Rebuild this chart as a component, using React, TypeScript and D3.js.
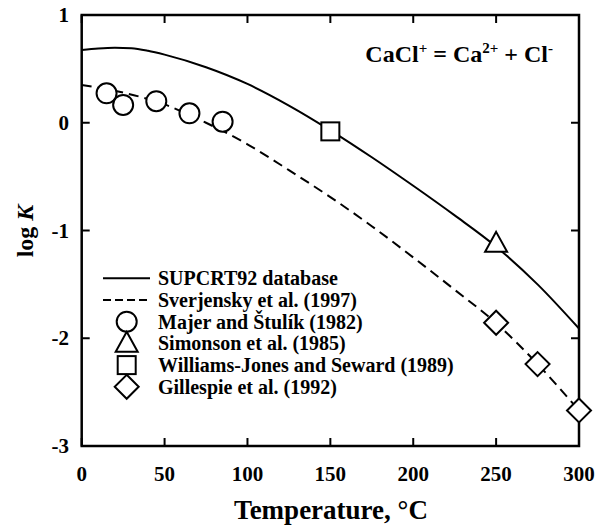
import React from "react";
import * as d3 from "d3";

const xTicks = [0, 50, 100, 150, 200, 250, 300];
const yTicks = [-3, -2, -1, 0, 1];

const supcrtT = [0, 10, 20, 30, 40, 50, 75, 100, 125, 150, 175, 200, 225, 250, 275, 300];
const supcrtLogK = [0.675, 0.69, 0.697, 0.692, 0.668, 0.632, 0.515, 0.36, 0.16, -0.07, -0.32, -0.585, -0.86, -1.15, -1.5, -1.91];

const sverT = [0, 25, 50, 75, 100, 125, 150, 175, 200, 225, 250, 275, 300];
const sverLogK = [0.35, 0.28, 0.17, 0.0, -0.2, -0.44, -0.69, -0.96, -1.25, -1.55, -1.86, -2.24, -2.67];

const majerT = [15, 25, 45, 65, 85];
const majerLogK = [0.273, 0.165, 0.2, 0.088, 0.01];

const simonsonT = [250];
const simonsonLogK = [-1.12];

const williamsT = [150];
const williamsLogK = [-0.08];

const gillespieT = [250, 275, 300];
const gillespieLogK = [-1.856, -2.24, -2.67];

const legendLabels = [
  "SUPCRT92 database",
  "Sverjensky et al. (1997)",
  "Majer and Štulík (1982)",
  "Simonson et al. (1985)",
  "Williams-Jones and Seward (1989)",
  "Gillespie et al. (1992)",
];

const W = 599;
const H = 531;
const left = 81.7;
const right = 579;
const top = 15;
const bottom = 446;
const FONT = '"Liberation Serif", "Times New Roman", Times, "DejaVu Serif", serif';

type Shape = "circle" | "triangle" | "square" | "diamond";

function Marker({ shape, cx, cy }: { shape: Shape; cx: number; cy: number }) {
  const common = { fill: "white", stroke: "black", strokeWidth: 2 };
  if (shape === "circle") return <circle cx={cx} cy={cy} r={10} {...common} />;
  if (shape === "square") return <rect x={cx - 9} y={cy - 9} width={18} height={18} {...common} />;
  if (shape === "triangle") {
    const s = 11;
    return (
      <path
        d={`M${cx},${cy - s * 1.05} L${cx + s},${cy + s * 0.75} L${cx - s},${cy + s * 0.75} Z`}
        {...common}
      />
    );
  }
  const s = 12;
  return <path d={`M${cx},${cy - s} L${cx + s},${cy} L${cx},${cy + s} L${cx - s},${cy} Z`} {...common} />;
}

export default function App() {
  const x = d3.scaleLinear().domain([0, 300]).range([left, right]);
  const y = d3.scaleLinear().domain([-3, 1]).range([bottom, top]);
  const line = d3
    .line<[number, number]>()
    .x((d) => x(d[0]))
    .y((d) => y(d[1]))
    .curve(d3.curveMonotoneX);

  const supData: [number, number][] = supcrtT.map((t, i) => [t, supcrtLogK[i]]);
  const sverData: [number, number][] = sverT.map((t, i) => [t, sverLogK[i]]);

  const tick = 8;
  const legendX = 103;
  const legendTextX = 158;
  const legendY0 = 278.3;
  const legendDy = 21.7;
  const markerX = 126.7;
  const shapes: Shape[] = ["circle", "triangle", "square", "diamond"];

  return (
    <svg
      width={W}
      height={H}
      style={{ position: "absolute", left: 0, top: 0, background: "white", fontFamily: FONT, fontWeight: 700 }}
    >
      <rect x={0} y={0} width={W} height={H} fill="white" />
      <defs>
        <clipPath id="plot">
          <rect x={left} y={top} width={right - left} height={bottom - top} />
        </clipPath>
      </defs>

      {/* curves */}
      <g clipPath="url(#plot)">
        <path d={line(supData) || ""} fill="none" stroke="black" strokeWidth={2} />
        <path d={line(sverData) || ""} fill="none" stroke="black" strokeWidth={2} strokeDasharray="10,6" />
      </g>

      {/* frame */}
      <rect x={left} y={top} width={right - left} height={bottom - top} fill="none" stroke="black" strokeWidth={2.5} />

      {/* x ticks */}
      {xTicks.map((t) => (
        <g key={"x" + t}>
          <line x1={x(t)} x2={x(t)} y1={bottom} y2={bottom - tick} stroke="black" strokeWidth={2} />
          <line x1={x(t)} x2={x(t)} y1={top} y2={top + tick} stroke="black" strokeWidth={2} />
          <text x={x(t)} y={481} fontSize={21} textAnchor="middle">
            {t}
          </text>
        </g>
      ))}
      {/* y ticks */}
      {yTicks.map((t) => (
        <g key={"y" + t}>
          <line x1={left} x2={left + tick} y1={y(t)} y2={y(t)} stroke="black" strokeWidth={2} />
          <line x1={right} x2={right - tick} y1={y(t)} y2={y(t)} stroke="black" strokeWidth={2} />
          <text x={69} y={y(t) + 7} fontSize={21} textAnchor="end">
            {t}
          </text>
        </g>
      ))}

      {/* markers */}
      {majerT.map((t, i) => (
        <Marker key={"m" + i} shape="circle" cx={x(t)} cy={y(majerLogK[i])} />
      ))}
      {simonsonT.map((t, i) => (
        <Marker key={"s" + i} shape="triangle" cx={x(t)} cy={y(simonsonLogK[i])} />
      ))}
      {williamsT.map((t, i) => (
        <Marker key={"w" + i} shape="square" cx={x(t)} cy={y(williamsLogK[i])} />
      ))}
      {gillespieT.map((t, i) => (
        <Marker key={"g" + i} shape="diamond" cx={x(t)} cy={y(gillespieLogK[i])} />
      ))}

      {/* axis titles */}
      <text x={331} y={519} fontSize={27} textAnchor="middle">
        Temperature, °C
      </text>
      <text transform={`translate(33,231) rotate(-90)`} fontSize={24} textAnchor="middle">
        log <tspan fontStyle="italic">K</tspan>
      </text>

      {/* reaction */}
      <text x={553} y={62} fontSize={24} textAnchor="end">
        CaCl<tspan fontSize={15} dy={-9}>+</tspan>
        <tspan dy={9}> = Ca</tspan>
        <tspan fontSize={15} dy={-9}>2+</tspan>
        <tspan dy={9}> + Cl</tspan>
        <tspan fontSize={15} dy={-9}>-</tspan>
      </text>

      {/* legend */}
      <line x1={legendX} x2={150} y1={legendY0} y2={legendY0} stroke="black" strokeWidth={2} />
      <line
        x1={legendX}
        x2={150}
        y1={legendY0 + legendDy}
        y2={legendY0 + legendDy}
        stroke="black"
        strokeWidth={2}
        strokeDasharray="8,4"
      />
      {shapes.map((s, i) => (
        <Marker key={"l" + s} shape={s} cx={markerX} cy={legendY0 + legendDy * (i + 2)} />
      ))}
      {legendLabels.map((lab, i) => (
        <text key={lab} x={legendTextX} y={legendY0 + legendDy * i + 7} fontSize={20}>
          {lab}
        </text>
      ))}
    </svg>
  );
}
